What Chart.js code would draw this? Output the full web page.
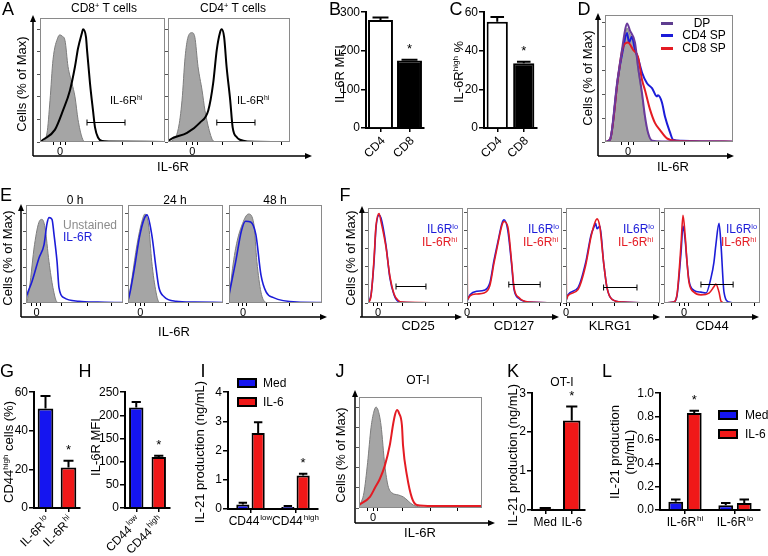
<!DOCTYPE html>
<html lang="en">
<head>
<meta charset="UTF-8" />
<title>IL-6R figure</title>
<script src="https://cdn.jsdelivr.net/npm/chart.js"></script>
<style>
  body { margin:0; width:768px; height:556px; position:relative; overflow:hidden; background:#fff;
         font-family:"Liberation Sans", Arial, sans-serif; color:#000; }
  canvas { position:absolute; }
  .t { position:absolute; transform:translate(-50%,-50%); white-space:nowrap; font-size:12px; line-height:1; }
  .l { transform:translate(0,-50%); }
  .rot { transform:translate(-50%,-50%) rotate(-90deg); font-size:13px; }
  .p { font-size:18px; }
  sup { font-size:0.62em; vertical-align:0.5em; line-height:0; }
  .sw { position:absolute; }
  .lg { position:absolute; border:2px solid #000; box-sizing:border-box; }
  svg { position:absolute; left:0; top:0; }
</style>
</head>
<body>
<!-- histograms -->
<canvas id="a8"></canvas><canvas id="a4"></canvas><canvas id="d"></canvas>
<canvas id="e0"></canvas><canvas id="e24"></canvas><canvas id="e48"></canvas>
<canvas id="f25"></canvas><canvas id="f127"></canvas><canvas id="fk"></canvas><canvas id="f44"></canvas>
<canvas id="j"></canvas>
<!-- bar charts -->
<canvas id="b"></canvas><canvas id="c"></canvas><canvas id="g"></canvas><canvas id="h"></canvas>
<canvas id="i"></canvas><canvas id="k"></canvas><canvas id="lc"></canvas>

<svg width="768" height="556">
  <g stroke="#000" stroke-width="1.5" fill="none">
    <path d="M33 156V21M33 156H306" />
    <path d="M598 156V19M598 156H728" />
    <path d="M21 317V210M21 317H321" />
    <path d="M362 317V212M360 317H456M467 317H553M567 317H654M665 317H753" />
    <path d="M355 523V396M355 523H489" />
  </g>
  <g fill="#000">
    <path d="M33 15l-3 7h6z" /><path d="M312 156l-7 -3v6z" />
    <path d="M598 13l-3 7h6z" /><path d="M734 156l-7 -3v6z" />
    <path d="M21 204l-3 7h6z" /><path d="M327 317l-7 -3v6z" />
    <path d="M362 206l-3 7h6z" /><path d="M462 317l-7 -3v6z" /><path d="M559 317l-7 -3v6z" />
    <path d="M660 317l-7 -3v6z" /><path d="M759 317l-7 -3v6z" />
    <path d="M355 390l-3 7h6z" /><path d="M495 523l-7 -3v6z" />
  </g>
</svg>

<!-- panel letters -->
<div class="t p" style="left:8px;top:9px">A</div>
<div class="t p" style="left:335px;top:9px">B</div>
<div class="t p" style="left:456px;top:9px">C</div>
<div class="t p" style="left:584px;top:9px">D</div>
<div class="t p" style="left:6px;top:195px">E</div>
<div class="t p" style="left:345px;top:195px">F</div>
<div class="t p" style="left:7px;top:371px">G</div>
<div class="t p" style="left:85px;top:371px">H</div>
<div class="t p" style="left:203px;top:371px">I</div>
<div class="t p" style="left:340px;top:371px">J</div>
<div class="t p" style="left:513px;top:371px">K</div>
<div class="t p" style="left:607px;top:371px">L</div>

<!-- A -->
<div class="t" style="left:104px;top:8px">CD8<sup>+</sup> T cells</div>
<div class="t" style="left:233px;top:8px">CD4<sup>+</sup> T cells</div>
<div class="t rot" style="left:21px;top:84px">Cells (% of Max)</div>
<div class="t l" style="left:110px;top:100px;font-size:11px">IL-6R<sup>hi</sup></div>
<div class="t l" style="left:237px;top:100px;font-size:11px">IL-6R<sup>hi</sup></div>
<div class="t" style="left:173px;top:166px;font-size:13px">IL-6R</div>
<!-- B, C -->
<div class="t rot" style="left:339px;top:74px">IL-6R MFI</div>
<div class="t rot" style="left:458px;top:72px">IL-6R<sup>high</sup> %</div>
<!-- D -->
<div class="t rot" style="left:587px;top:78px">Cells (% of Max)</div>
<div class="sw" style="left:661px;top:22px;width:12px;height:3px;background:#5e3d8f"></div>
<div class="sw" style="left:661px;top:34px;width:12px;height:3px;background:#1c1cd8"></div>
<div class="sw" style="left:661px;top:47px;width:12px;height:3px;background:#e41b23"></div>
<div class="t" style="left:702px;top:23px">DP</div>
<div class="t" style="left:704px;top:35px">CD4 SP</div>
<div class="t" style="left:704px;top:48px">CD8 SP</div>
<div class="t" style="left:673px;top:166px;font-size:13px">IL-6R</div>
<!-- E -->
<div class="t" style="left:75px;top:200px">0 h</div>
<div class="t" style="left:175px;top:200px">24 h</div>
<div class="t" style="left:275px;top:200px">48 h</div>
<div class="t rot" style="left:7px;top:258px">Cells (% of Max)</div>
<div class="t l" style="left:63px;top:225px;color:#8c8c8c">Unstained</div>
<div class="t l" style="left:63px;top:237px;color:#1c1cd8">IL-6R</div>
<div class="t" style="left:174px;top:331px;font-size:13px">IL-6R</div>
<!-- F -->
<div class="t rot" style="left:350px;top:258px">Cells (% of Max)</div>
<div class="t l" style="left:427px;top:229px;color:#1c1cd8">IL6R<sup>lo</sup></div>
<div class="t l" style="left:422px;top:242px;color:#e41b23">IL-6R<sup>hi</sup></div>
<div class="t l" style="left:528px;top:229px;color:#1c1cd8">IL6R<sup>lo</sup></div>
<div class="t l" style="left:523px;top:242px;color:#e41b23">IL-6R<sup>hi</sup></div>
<div class="t l" style="left:623px;top:229px;color:#1c1cd8">IL6R<sup>lo</sup></div>
<div class="t l" style="left:618px;top:242px;color:#e41b23">IL-6R<sup>hi</sup></div>
<div class="t l" style="left:726px;top:229px;color:#1c1cd8">IL6R<sup>lo</sup></div>
<div class="t l" style="left:721px;top:242px;color:#e41b23">IL-6R<sup>hi</sup></div>
<div class="t" style="left:418px;top:325px;font-size:13px">CD25</div>
<div class="t" style="left:514px;top:325px;font-size:13px">CD127</div>
<div class="t" style="left:610px;top:325px;font-size:13px">KLRG1</div>
<div class="t" style="left:712px;top:325px;font-size:13px">CD44</div>
<!-- G, H, I -->
<div class="t rot" style="left:8px;top:452px">CD44<sup>high</sup> cells (%)</div>
<div class="t rot" style="left:95px;top:447px">IL-6R MFI</div>
<div class="t rot" style="left:199px;top:452px">IL-21 production (ng/mL)</div>
<div class="lg" style="left:237px;top:378px;width:20px;height:10px;background:#1515f0"></div>
<div class="lg" style="left:237px;top:397px;width:20px;height:10px;background:#f01818"></div>
<div class="t l" style="left:263px;top:383px">Med</div>
<div class="t l" style="left:263px;top:402px">IL-6</div>
<!-- J -->
<div class="t" style="left:418px;top:380px">OT-I</div>
<div class="t rot" style="left:340px;top:455px">Cells (% of Max)</div>
<div class="t" style="left:420px;top:532px;font-size:13px">IL-6R</div>
<!-- K, L -->
<div class="t" style="left:562px;top:382px">OT-I</div>
<div class="t rot" style="left:512px;top:455px">IL-21 production (ng/mL)</div>
<div class="t rot" style="left:614px;top:452px">IL-21 production</div>
<div class="t rot" style="left:629px;top:452px">(ng/mL)</div>
<div class="lg" style="left:718px;top:410px;width:20px;height:10px;background:#1515f0"></div>
<div class="lg" style="left:718px;top:429px;width:20px;height:10px;background:#f01818"></div>
<div class="t l" style="left:745px;top:415px">Med</div>
<div class="t l" style="left:745px;top:434px">IL-6</div>

<script>
// ---------- data: histograms as [position % of axis, cells % of max] ----------
const a8Grey  = [[0,0],[1.6,0],[5.6,8],[8,37],[10.4,73],[14.4,93],[16,95],[17.6,94],[20,90],[22.4,67],[25.6,52],[28,40],[30.4,20],[33.6,4],[36,0],[100,0]];
const a8Black = [[0,0],[2.4,2],[12,11],[18.4,28],[24,46],[28,67],[30.4,83],[33.6,97],[34.4,100],[36.8,93],[37.6,82],[40,52],[42.4,28],[44,13],[46.4,4],[49.6,1],[56,0.5],[100,0]];
const a4Grey  = [[0,0],[3.3,1],[8.5,12],[11.5,37],[14,75],[16.4,93],[19.7,97],[22,93],[24.6,67],[27.9,46],[30.3,28],[34.4,8],[37,1],[40,0],[100,0]];
const a4Black = [[0,0],[1.6,2],[15.6,8],[26,17],[33,28],[37,52],[40,82],[42.6,97],[44,100],[46,93],[48,67],[51,37],[53,13],[56.6,4],[59,2],[65,0.5],[100,0]];

const dGrey = [[0,0],[3.9,1],[9.4,45],[13.3,73],[15.6,89],[17.2,95],[19.5,90],[23.4,80],[25.8,60],[28.9,38],[31.3,19],[33.6,7],[37,1],[42,0],[100,0]];
const dDP   = [[0,0],[3.9,2],[9.4,49],[13.3,77],[15.6,93],[17.2,99],[19.5,93],[23.4,83],[25.8,63],[28.9,41],[31.3,21],[33.6,8],[37,1],[45,0.5],[100,0.3]];
const dCD4  = [[0,0],[3.9,2],[10.2,54],[14,77],[17.2,91],[18.8,83],[21,88],[23.4,77],[25.8,70],[28.9,58],[32.8,49],[36.7,45],[40.6,38],[41.4,39],[44.5,33],[46.9,21],[50.8,8],[53.1,2],[60,1],[75,0.5],[100,0.3]];
const dCD8  = [[0,0],[3.9,2],[10.2,54],[14,79],[18,83],[21.9,77],[25.8,71],[28.9,52],[31.3,43],[35.2,27],[39,16],[43,10],[48.4,3],[55,1],[100,0.3]];

const e0Grey  = [[0,0],[1,2],[3.6,17],[8.8,65],[13.8,91],[16.5,93],[19.6,84],[23.7,46],[27.8,17],[32,1],[36,0],[100,0]];
const e0Blue  = [[0,5],[1,9],[6.2,24],[13.4,50],[18.6,65],[21.6,88],[23.7,95],[26.8,93],[28.9,76],[32,46],[34,17],[39,6],[54.6,2],[74,1],[100,0.5]];
const e24Grey = [[0,0],[4.2,28],[9.5,65],[14.7,91],[17.9,99],[22,84],[25,46],[29.5,12],[32.6,1],[36,0],[100,0]];
const e24Blue = [[0,3],[1.6,9],[6.8,39],[12,73],[16.8,93],[20,98],[25,76],[29.5,39],[32.6,17],[38,7],[50.5,2],[70,1],[100,0.5]];
const e48Grey = [[0,0],[1.7,20],[7.2,61],[15.6,91],[21,99],[26.7,88],[30,46],[34.4,12],[39,1],[43,0],[100,0]];
const e48Blue = [[0,9],[7.2,46],[13.3,80],[17.8,91],[23.3,90],[28.9,76],[34.4,31],[40,12],[47.8,6],[73,1],[100,0.5]];

const f25Lo  = [[0,0],[3.2,9],[6.3,45],[8.4,83],[11.6,97],[13.7,94],[18.9,64],[23,28],[27.4,9],[31.6,2],[40,0.5],[100,0]];
const f25Hi  = [[0,0],[3.2,8],[6.3,48],[8.4,85],[11.6,99],[13.7,90],[18.9,62],[23,30],[27.4,10],[31.6,3],[36,1],[100,0]];
const f127Lo = [[0,2],[3.2,9],[10.5,13],[17.9,14],[24,22],[28.4,47],[32.6,68],[36.8,88],[39,92],[43,80],[47,42],[49.5,15],[54.7,5],[65,1],[100,0]];
const f127Hi = [[0,104],[0.5,4],[3.2,8],[10.5,10],[17.9,11],[24,19],[28.4,44],[32.6,66],[36.8,86],[39,90],[43,84],[47,45],[49.5,17],[54.7,6],[65,1],[100,0]];
const fKLo   = [[0,2],[2,9],[12.8,17],[21,45],[26.6,75],[29.8,84],[31.5,88],[33,82],[36,85],[40,45],[43.6,17],[49,4],[60.6,1],[100,0]];
const fKHi   = [[0,104],[0.5,4],[2,8],[12.8,15],[21,42],[26.6,73],[29.8,86],[33,93],[36,84],[40,45],[43.6,17],[49,4],[60.6,1],[100,0]];
const f44Lo  = [[0,0],[10,1],[13.5,8],[17.7,55],[19.8,85],[22,70],[24,45],[26,25],[31.2,14],[38.5,12],[43.8,11],[49,28],[52,45],[54,64],[57.3,88],[59.4,64],[62.5,12],[67.7,1],[75,0],[100,0]];
const f44Hi  = [[0,0],[10,1],[13.5,9],[17.7,64],[19.8,97],[22,75],[24,45],[26,23],[31.2,12],[38.5,9],[46.9,11],[52,18],[54,21],[57.3,12],[59.4,2],[64,0],[100,0]];

const jGrey = [[0,0],[0.8,3],[4,15],[7,45],[9.8,80],[12,95],[13.8,100],[15.5,97],[17.9,82],[21,42],[23.6,22],[26.8,15],[31.7,13],[36,11],[44,3],[50,1],[60,0],[100,0]];
const jRed  = [[0,3],[8.9,11],[13,20],[17,29],[21,42],[25,62],[27.6,82],[29,91],[30.9,97],[32.5,94],[34.9,82],[35.8,62],[39,32],[43,10],[47,3],[60,2],[100,2]];

// gates [from, to, height]
const a8Gate = [37.6, 68, 18], a4Gate = [40, 71.3, 18];
const f25Gate = [29.5, 61, 19], f127Gate = [44, 77, 21], fKGate = [40, 75.5, 18], f44Gate = [38.5, 72, 21];

// ---------- data: bar charts ----------
const bLabels = ['CD4', 'CD8'],  bMFI = [280, 175],  bErr = [6, 2];
const cLabels = ['CD4', 'CD8'],  cPct = [55, 33.5],  cErr = [2.5, 0.8];
const gLabels = ['IL-6R^lo', 'IL-6R^hi'], gPct = [51.5, 21], gErr = [6.5, 3.5];
const hLabels = ['CD44^low', 'CD44^high'], hMFI = [217, 110], hErr = [12, 3];
const iLabels = ['CD44^low', 'CD44^high'], iMed = [0.15, 0.07], iMedErr = [0.06, 0.03], iIL6 = [2.6, 1.15], iIL6Err = [0.37, 0.06];
const kLabels = ['Med', 'IL-6'], kIL21 = [0.03, 2.3], kErr = [0.02, 0.36];
const lLabels = ['IL-6R^hi', 'IL-6R^lo'], lMed = [0.07, 0.04], lMedErr = [0.02, 0.02], lIL6 = [0.83, 0.06], lIL6Err = [0.02, 0.03];

const BLUE = '#1515f0', RED = '#f01818', LBLUE = '#1c1cd8', LRED = '#e41b23', PURPLE = '#6a3a9c';
const FONT = '"Liberation Sans", Arial, sans-serif';
Chart.defaults.font.family = FONT;
Chart.defaults.color = '#000';

function place(id, box, pad) {
  const c = document.getElementById(id);
  c.width = box[2] - box[0] + pad[0] + pad[2];
  c.height = box[3] - box[1] + pad[1] + pad[3];
  c.style.left = (box[0] - pad[0]) + 'px';
  c.style.top = (box[1] - pad[1]) + 'px';
  return c;
}

// frame + gate bracket around histogram plots
const boxPlugin = {
  id: 'box',
  afterDatasetsDraw(chart, args, opts) {
    const { ctx, chartArea: a, scales: { x, y } } = chart;
    ctx.save();
    ctx.strokeStyle = '#8a8a8a'; ctx.lineWidth = 1;
    ctx.strokeRect(a.left + 0.5, a.top + 0.5, a.width - 1, a.height - 1);
    if (opts.gate) {
      const g = opts.gate;
      const x1 = x.getPixelForValue(g[0]), x2 = x.getPixelForValue(g[1]);
      const yy = Math.round(y.getPixelForValue(g[2])) + 0.5;
      ctx.strokeStyle = '#000';
      ctx.beginPath();
      ctx.moveTo(x1, yy); ctx.lineTo(x2, yy);
      ctx.moveTo(x1, yy - 3); ctx.lineTo(x1, yy + 3);
      ctx.moveTo(x2, yy - 3); ctx.lineTo(x2, yy + 3);
      ctx.stroke();
    }
    ctx.restore();
  }
};

function hist(id, box, ymax, zero, xticks, sets, gate) {
  const pad = [6, 4, 4, 14];
  const c = place(id, box, pad);
  return new Chart(c, {
    type: 'line',
    data: {
      datasets: sets.map(s => ({
        data: s.d.map(p => ({ x: p[0], y: p[1] })),
        borderColor: s.c, borderWidth: s.w || 1.6,
        backgroundColor: s.bg || 'transparent', fill: s.bg ? 'origin' : false,
        pointRadius: 0, cubicInterpolationMode: 'monotone', order: s.o
      }))
    },
    options: {
      responsive: false, animation: false, events: [],
      layout: { padding: { left: 0, top: pad[1], right: pad[2], bottom: 0 } },
      plugins: { legend: { display: false }, tooltip: { enabled: false }, box: { gate } },
      scales: {
        x: {
          type: 'linear', min: 0, max: 100,
          afterFit: s => { s.height = pad[3]; },
          afterBuildTicks: s => { s.ticks = xticks.map(v => ({ value: v })); },
          grid: { drawOnChartArea: false, tickLength: 3, color: '#000' },
          border: { display: false },
          ticks: { callback: v => (v === zero ? '0' : ''), font: { size: 11 }, padding: 0, maxRotation: 0, autoSkip: false }
        },
        y: {
          min: 0, max: ymax,
          afterFit: s => { s.width = pad[0]; },
          afterBuildTicks: s => { s.ticks = [0, 20, 40, 60, 80, 100].map(v => ({ value: v })); },
          grid: { drawOnChartArea: false, tickLength: 3, color: '#555' },
          border: { display: false },
          ticks: { display: false }
        }
      }
    },
    plugins: [boxPlugin]
  });
}

const grey = d => ({ d, c: '#7d7d7d', bg: '#a5a5a5', w: 1, o: 5 });

hist('a8', [40, 18, 165, 142], 110, 16, [11, 16, 20, 42, 66, 90], [grey(a8Grey), { d: a8Black, c: '#000', w: 2, o: 1 }], a8Gate);
hist('a4', [168, 18, 290, 142], 110, 20, [15, 20, 24, 45, 69, 93], [grey(a4Grey), { d: a4Black, c: '#000', w: 2, o: 1 }], a4Gate);
hist('d', [605, 15, 733, 142], 106, 18, [13, 18, 22, 42, 62, 82], [grey(dGrey), { d: dCD4, c: LBLUE, w: 2, o: 3 }, { d: dCD8, c: LRED, w: 2, o: 2 }, { d: dDP, c: PURPLE, w: 2, o: 1 }]);
hist('e0', [26, 205, 123, 303], 109, 11, [6, 11, 15, 37, 63, 88], [grey(e0Grey), { d: e0Blue, c: LBLUE, w: 1.6, o: 1 }]);
hist('e24', [128, 205, 223, 303], 109, 13, [8, 13, 17, 39, 64, 89], [grey(e24Grey), { d: e24Blue, c: LBLUE, w: 1.6, o: 1 }]);
hist('e48', [229, 205, 322, 303], 109, 15, [10, 15, 19, 40, 65, 90], [grey(e48Grey), { d: e48Blue, c: LBLUE, w: 1.6, o: 1 }]);
hist('f25', [368, 208, 463, 303], 105, 10.5, [6, 10.5, 14, 36, 60, 85], [{ d: f25Lo, c: LBLUE, o: 2 }, { d: f25Hi, c: LRED, o: 1 }], f25Gate);
hist('f127', [467, 208, 562, 303], 105, 0, [0, 4, 28, 52, 76, 98], [{ d: f127Lo, c: LBLUE, o: 2 }, { d: f127Hi, c: LRED, o: 1 }], f127Gate);
hist('fk', [566, 208, 660, 303], 105, 0, [0, 4, 28, 52, 76, 98], [{ d: fKLo, c: LBLUE, o: 2 }, { d: fKHi, c: LRED, o: 1 }], fKGate);
hist('f44', [664, 208, 760, 303], 105, 21, [16, 21, 25, 46, 70, 94], [{ d: f44Lo, c: LBLUE, o: 2 }, { d: f44Hi, c: LRED, o: 1 }], f44Gate);
hist('j', [359, 397, 482, 508], 110, 11.4, [7, 11.4, 15, 35, 58, 80], [grey(jGrey), { d: jRed, c: LRED, w: 2, o: 1 }]);

// ---------- bar charts ----------
function drawRich(ctx, str, x, y, rot, align, size) {
  const [base, sup] = str.split('^');
  ctx.save();
  ctx.translate(x, y); ctx.rotate(rot);
  ctx.fillStyle = '#000'; ctx.textBaseline = 'middle'; ctx.textAlign = 'left';
  const f1 = size + 'px ' + FONT, f2 = Math.round(size * 0.65) + 'px ' + FONT;
  ctx.font = f1; const w1 = ctx.measureText(base).width;
  ctx.font = f2; const w2 = sup ? ctx.measureText(sup).width + 1 : 0;
  const x0 = align === 'right' ? -(w1 + w2) : align === 'center' ? -(w1 + w2) / 2 : 0;
  ctx.font = f1; ctx.fillText(base, x0, 0);
  if (sup) { ctx.font = f2; ctx.fillText(sup, x0 + w1 + 1, -size * 0.35); }
  ctx.restore();
}

const barDeco = {
  id: 'deco',
  afterDatasetsDraw(chart, args, o) {
    const { ctx, scales: { x, y }, chartArea: a } = chart;
    ctx.save();
    ctx.strokeStyle = '#000'; ctx.lineWidth = 2;
    chart.data.datasets.forEach((ds, i) => {
      chart.getDatasetMeta(i).data.forEach((bar, j) => {
        const yt = y.getPixelForValue(ds.data[j] + ds.err[j]);
        const hw = Math.max(4, bar.width * 0.32);
        ctx.beginPath();
        ctx.moveTo(bar.x, bar.y); ctx.lineTo(bar.x, yt);
        ctx.moveTo(bar.x - hw, yt); ctx.lineTo(bar.x + hw, yt);
        ctx.stroke();
      });
    });
    ctx.fillStyle = '#000'; ctx.font = '13px ' + FONT; ctx.textAlign = 'center'; ctx.textBaseline = 'bottom';
    (o.stars || []).forEach(([i, j]) => {
      const ds = chart.data.datasets[i], bar = chart.getDatasetMeta(i).data[j];
      ctx.fillText('*', bar.x, y.getPixelForValue(ds.data[j] + ds.err[j]) - 4);
    });
    chart.data.labels.forEach((lab, j) => {
      const px = x.getPixelForValue(j);
      if (o.rot) drawRich(ctx, lab, px + 3, a.bottom + 11, -Math.PI / 4, 'right', 12);
      else drawRich(ctx, lab, px, a.bottom + 13, 0, 'center', 12);
    });
    ctx.restore();
  }
};

function bars(id, box, pad, labels, sets, ymax, step, o) {
  const c = place(id, box, pad);
  return new Chart(c, {
    type: 'bar',
    data: {
      labels,
      datasets: sets.map(s => ({
        data: s.data, err: s.err, backgroundColor: s.bg, borderColor: '#000', borderWidth: 2,
        barPercentage: o.bp, categoryPercentage: o.cp
      }))
    },
    options: {
      responsive: false, animation: false, events: [],
      layout: { padding: { left: 0, top: pad[1], right: pad[2], bottom: 0 } },
      plugins: { legend: { display: false }, tooltip: { enabled: false }, deco: { stars: o.stars, rot: o.rot } },
      scales: {
        x: {
          afterFit: s => { s.height = pad[3]; },
          grid: { drawOnChartArea: false, offset: false, tickLength: 4, color: '#000', lineWidth: 1.5 },
          border: { color: '#000', width: 2 },
          ticks: { display: false }
        },
        y: {
          min: 0, max: ymax,
          afterFit: s => { s.width = pad[0]; },
          grid: { drawOnChartArea: false, tickLength: 5, color: '#000', lineWidth: 1.5 },
          border: { color: '#000', width: 2 },
          ticks: { stepSize: step, font: { size: 12 }, padding: 1, callback: o.fmt || (v => v) }
        }
      }
    },
    plugins: [barDeco]
  });
}

bars('b', [366, 12, 424, 128], [32, 8, 4, 36], bLabels, [{ data: bMFI, err: bErr, bg: ['#fff', '#000'] }], 300, 100, { bp: 0.86, cp: 1, stars: [[0, 1]], rot: true });
bars('c', [484, 12, 537, 128], [26, 8, 4, 36], cLabels, [{ data: cPct, err: cErr, bg: ['#fff', '#000'] }], 60, 20, { bp: 0.8, cp: 1, stars: [[0, 1]], rot: true });
bars('g', [34, 392, 80, 508], [24, 8, 4, 46], gLabels, [{ data: gPct, err: gErr, bg: [BLUE, RED] }], 60, 20, { bp: 0.68, cp: 1, stars: [[0, 1]], rot: true });
bars('h', [125, 392, 170, 508], [34, 8, 4, 46], hLabels, [{ data: hMFI, err: hErr, bg: [BLUE, RED] }], 250, 50, { bp: 0.64, cp: 1, stars: [[0, 1]], rot: true });
bars('i', [228, 392, 318, 509], [14, 8, 4, 24], iLabels, [{ data: iMed, err: iMedErr, bg: BLUE }, { data: iIL6, err: iIL6Err, bg: RED }], 4, 1, { bp: 0.86, cp: 0.68, stars: [[1, 1]] });
bars('k', [532, 393, 585, 510], [14, 8, 4, 24], kLabels, [{ data: kIL21, err: kErr, bg: RED }], 3, 1, { bp: 0.66, cp: 1, stars: [[0, 1]] });
bars('lc', [660, 393, 760, 510], [26, 8, 4, 24], lLabels, [{ data: lMed, err: lMedErr, bg: BLUE }, { data: lIL6, err: lIL6Err, bg: RED }], 1, 0.2, { bp: 0.8, cp: 0.74, stars: [[1, 0]], fmt: v => v.toFixed(1) });
</script>
</body>
</html>
